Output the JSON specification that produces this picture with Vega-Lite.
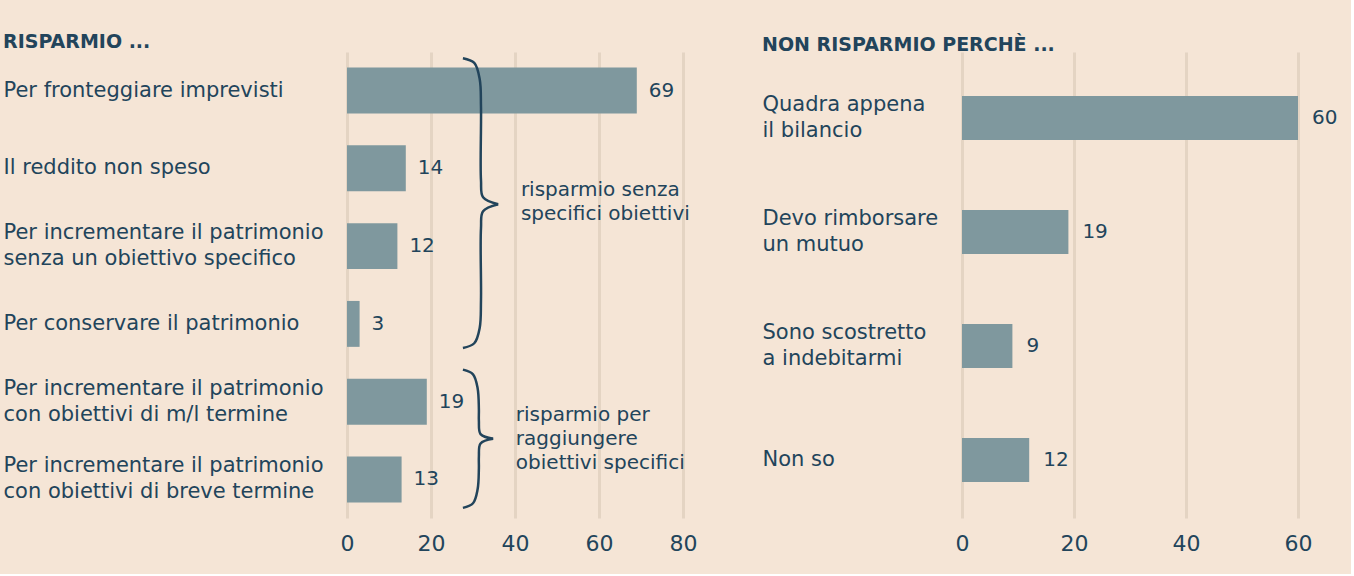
{
  "$schema": "https://vega.github.io/schema/vega-lite/v6.json",
  "background": "#f5e5d6",
  "padding": {"left": 3, "top": 33, "right": 13, "bottom": 20},
  "spacing": 65,
  "config": {
    "font": "DejaVu Sans",
    "view": {"stroke": null},
    "axis": {"labelColor": "#22445b", "labelFont": "DejaVu Sans", "domain": false, "ticks": false},
    "title": {"color": "#22445b", "font": "DejaVu Sans", "fontWeight": "bold", "fontSize": 19, "anchor": "start", "frame": "bounds"}
  },
  "hconcat": [
    {
      "width": 336,
      "height": 466,
      "title": {"text": "RISPARMIO ...", "offset": 0},
      "resolve": {"scale": {"y": "independent"}},
      "layer": [
        {
          "data": {"values": [
            {"label": "Per fronteggiare imprevisti", "value": 69},
            {"label": "Il reddito non speso", "value": 14},
            {"label": "Per incrementare il patrimonio|senza un obiettivo specifico", "value": 12},
            {"label": "Per conservare il patrimonio", "value": 3},
            {"label": "Per incrementare il patrimonio|con obiettivi di m/l termine", "value": 19},
            {"label": "Per incrementare il patrimonio|con obiettivi di breve termine", "value": 13}
          ]},
          "encoding": {
            "y": {"field": "label", "type": "nominal", "sort": null, "title": null,
              "scale": {"paddingInner": 0.41, "paddingOuter": 0.2},
              "axis": {"labelAlign": "left", "labelPadding": 344, "labelFontSize": 21, "labelLineHeight": 26, "labelExpr": "split(datum.label, '|')", "labelLimit": 400,
                "labelOffset": {"condition": {"test": "indexof(datum.value, '|') >= 0", "value": -13}, "value": 0}}},
            "x": {"field": "value", "type": "quantitative", "title": null,
              "scale": {"domain": [0, 80], "nice": false},
              "axis": {"values": [0, 20, 40, 60, 80], "grid": true, "gridColor": "#e4d4c3", "gridWidth": 3, "labelFontSize": 22, "labelPadding": 15, "labelFlush": false}}
          },
          "layer": [
            {"mark": {"type": "bar", "color": "#7f989e"}},
            {"mark": {"type": "text", "align": "left", "dx": 12, "fontSize": 20, "color": "#22445b"}, "encoding": {"text": {"field": "value", "type": "quantitative"}}}
          ]
        },
        {
          "data": {"values": [
            {"b": "1a", "o": 1, "x": 27.6, "y": 0.08},
            {"b": "1a", "o": 2, "x": 30.3, "y": 0.14},
            {"b": "1a", "o": 3, "x": 31.6, "y": 0.35},
            {"b": "1a", "o": 4, "x": 31.9, "y": 0.7},
            {"b": "1a", "o": 5, "x": 31.9, "y": 1.65},
            {"b": "1a", "o": 6, "x": 32.4, "y": 1.87},
            {"b": "1a", "o": 7, "x": 36, "y": 1.96},
            {"b": "1b", "o": 1, "x": 36, "y": 1.96},
            {"b": "1b", "o": 2, "x": 32.4, "y": 2.05},
            {"b": "1b", "o": 3, "x": 31.9, "y": 2.27},
            {"b": "1b", "o": 4, "x": 31.9, "y": 3.2},
            {"b": "1b", "o": 5, "x": 31.6, "y": 3.55},
            {"b": "1b", "o": 6, "x": 30.3, "y": 3.75},
            {"b": "1b", "o": 7, "x": 27.6, "y": 3.81},
            {"b": "2a", "o": 1, "x": 27.6, "y": 4.09},
            {"b": "2a", "o": 2, "x": 30, "y": 4.15},
            {"b": "2a", "o": 3, "x": 31.1, "y": 4.33},
            {"b": "2a", "o": 4, "x": 31.4, "y": 4.6},
            {"b": "2a", "o": 5, "x": 31.4, "y": 4.75},
            {"b": "2a", "o": 6, "x": 31.8, "y": 4.92},
            {"b": "2a", "o": 7, "x": 34.8, "y": 4.98},
            {"b": "2b", "o": 1, "x": 34.8, "y": 4.98},
            {"b": "2b", "o": 2, "x": 31.8, "y": 5.04},
            {"b": "2b", "o": 3, "x": 31.4, "y": 5.21},
            {"b": "2b", "o": 4, "x": 31.4, "y": 5.36},
            {"b": "2b", "o": 5, "x": 31.1, "y": 5.63},
            {"b": "2b", "o": 6, "x": 30, "y": 5.81},
            {"b": "2b", "o": 7, "x": 27.6, "y": 5.87}
          ]},
          "mark": {"type": "line", "interpolate": "catmull-rom", "color": "#22445b", "strokeWidth": 2.5},
          "encoding": {
            "x": {"field": "x", "type": "quantitative"},
            "y": {"field": "y", "type": "quantitative", "scale": {"domain": [0, 6], "reverse": true, "nice": false, "zero": false}, "axis": null},
            "detail": {"field": "b"},
            "order": {"field": "o"}
          }
        },
        {
          "data": {"values": [
            {"t": "risparmio senza|specifici obiettivi", "x": 41.4, "y": 1.78},
            {"t": "risparmio per|raggiungere|obiettivi specifici", "x": 40.2, "y": 4.67}
          ]},
          "mark": {"type": "text", "align": "left", "baseline": "middle", "lineBreak": "|", "fontSize": 20, "lineHeight": 24, "color": "#22445b"},
          "encoding": {
            "x": {"field": "x", "type": "quantitative"},
            "y": {"field": "y", "type": "quantitative", "scale": {"domain": [0, 6], "reverse": true, "nice": false, "zero": false}, "axis": null},
            "text": {"field": "t"}
          }
        }
      ]
    },
    {
      "width": 336,
      "height": 466,
      "title": {"text": "NON RISPARMIO PERCHÈ ...", "offset": -3},
      "data": {"values": [
        {"label": "Quadra appena|il bilancio", "value": 60},
        {"label": "Devo rimborsare|un mutuo", "value": 19},
        {"label": "Sono scostretto|a indebitarmi", "value": 9},
        {"label": "Non so", "value": 12}
      ]},
      "encoding": {
        "y": {"field": "label", "type": "nominal", "sort": null, "title": null,
          "scale": {"paddingInner": 0.614, "paddingOuter": 0.351, "align": 0.55},
          "axis": {"labelAlign": "left", "labelPadding": 200, "labelFontSize": 21, "labelLineHeight": 26, "labelExpr": "split(datum.label, '|')", "labelLimit": 300,
            "labelOffset": {"condition": {"test": "indexof(datum.value, '|') >= 0", "value": -13}, "value": 0}}},
        "x": {"field": "value", "type": "quantitative", "title": null,
          "scale": {"domain": [0, 60], "nice": false},
          "axis": {"values": [0, 20, 40, 60], "grid": true, "gridColor": "#e4d4c3", "gridWidth": 3, "labelFontSize": 22, "labelPadding": 15, "labelFlush": false}}
      },
      "layer": [
        {"mark": {"type": "bar", "color": "#7f989e"}},
        {"mark": {"type": "text", "align": "left", "dx": 14, "fontSize": 20, "color": "#22445b"}, "encoding": {"text": {"field": "value", "type": "quantitative"}}}
      ]
    }
  ]
}
